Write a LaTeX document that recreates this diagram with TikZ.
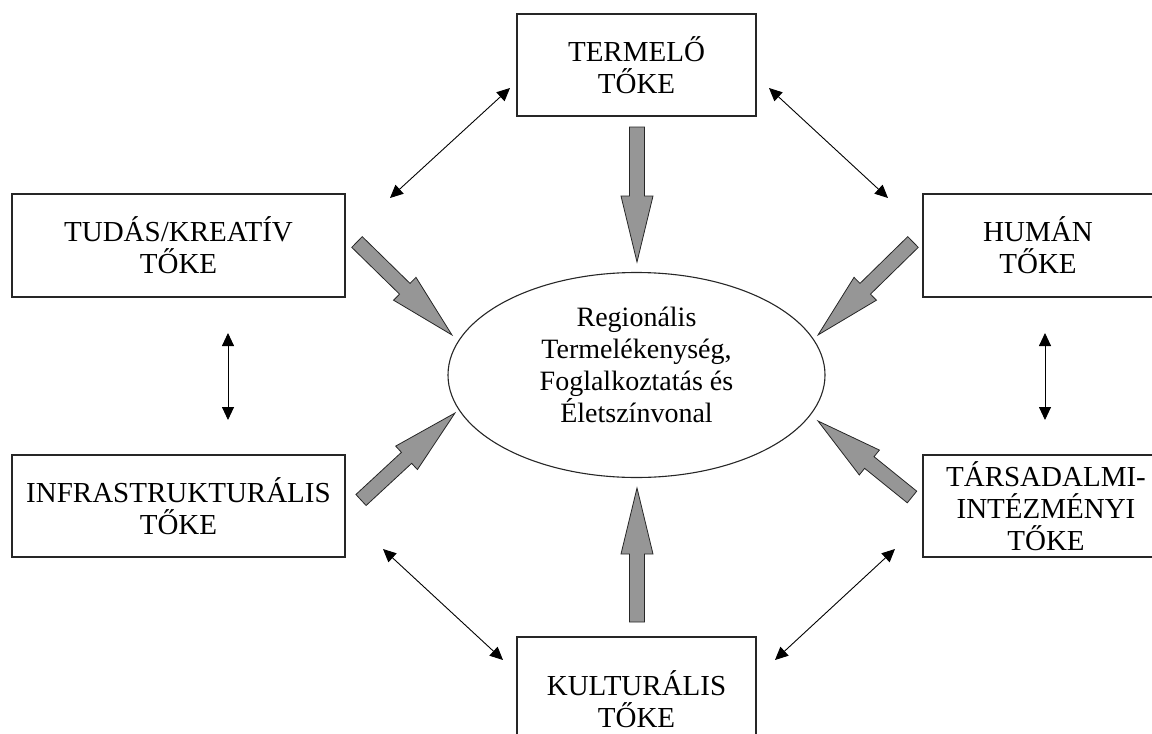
\documentclass[tikz,border=0pt]{standalone}
\usepackage{fontspec}
\setmainfont{Liberation Serif}
\usetikzlibrary{arrows.meta,shapes.geometric}
\definecolor{arrowgray}{RGB}{150,150,150}
\newdimen\gax \newdimen\gay \newdimen\gbx \newdimen\gby
\tikzset{
  capbox/.style={draw=black!85, line width=1.1pt, align=center,
    font=\fontsize{29}{32}\selectfont, inner sep=0pt},
  centretext/.style={align=center, font=\fontsize{28}{32}\selectfont, inner sep=0pt},
  twoway/.style={line width=0.9pt,
    {Triangle[length=13pt,width=12pt]}-{Triangle[length=13pt,width=12pt]}},
  blockarrow/.style={draw=black!85, line width=0.8pt, fill=arrowgray, line join=miter},
}
\newcommand{\garrow}[2]{%
  \pgfextractx{\gax}{\pgfpointanchor{#1}{center}}%
  \pgfextracty{\gay}{\pgfpointanchor{#1}{center}}%
  \pgfextractx{\gbx}{\pgfpointanchor{#2}{center}}%
  \pgfextracty{\gby}{\pgfpointanchor{#2}{center}}%
  \pgfmathsetmacro{\gang}{atan2(\the\gby-\the\gay,\the\gbx-\the\gax)}%
  \pgfmathsetmacro{\glen}{veclen(\the\gbx-\the\gax,\the\gby-\the\gay)}%
  \pgfmathsetmacro{\gbase}{\glen-66}%
  \begin{scope}[shift={(#1)},rotate=\gang]
    \draw[blockarrow] (0pt,-7.5pt) -- (\gbase pt,-7.5pt) -- (\gbase pt,-16pt)
      -- (\glen pt,0pt) -- (\gbase pt,16pt) -- (\gbase pt,7.5pt) -- (0pt,7.5pt) -- cycle;
  \end{scope}}
\begin{document}
\begin{tikzpicture}[x=1pt,y=-1pt]
\path[use as bounding box] (0,0) rectangle (1152,734);
\clip (0,0) rectangle (1152,734);

% boxes
\node[capbox, minimum width=239pt, minimum height=102pt] (termelo) at (636.5,65) {TERMELŐ\\TŐKE};
\node[capbox, minimum width=333pt, minimum height=103pt] (tudas) at (178.5,245.5) {TUDÁS/KREATÍV\\TŐKE};
\node[capbox, minimum width=230pt, minimum height=103pt] (human) at (1038,245.5) {HUMÁN\\TŐKE};
\node[capbox, minimum width=333pt, minimum height=102pt] (infra) at (178.5,506) {INFRASTRUKTURÁLIS\\TŐKE};
\node[capbox, minimum width=246pt, minimum height=102pt] (tarsadalmi) at (1046,506) {TÁRSADALMI-\\INTÉZMÉNYI\\TŐKE};
\node[capbox, minimum width=239pt, minimum height=124pt] (kulturalis) at (636.5,699) {KULTURÁLIS\\TŐKE};

% central ellipse
\node[ellipse, draw=black!85, line width=1.1pt, minimum width=377pt, minimum height=205pt,
  inner sep=0pt] (regio) at (636.5,375) {};
\node[centretext] (regiotext) at (636.5,365) {Regionális\\Termelékenység,\\Foglalkoztatás és\\Életszínvonal};

% thick grey arrows
\coordinate (g1s) at (637,127);  \coordinate (g1e) at (637,262);
\coordinate (g2s) at (357,242);  \coordinate (g2e) at (452,335);
\coordinate (g3s) at (913,242);  \coordinate (g3e) at (818,335);
\coordinate (g4s) at (361,500);  \coordinate (g4e) at (455,413);
\coordinate (g5s) at (912,497);  \coordinate (g5e) at (818,421);
\coordinate (g6s) at (637,622);  \coordinate (g6e) at (637,488);
\garrow{g1s}{g1e}
\garrow{g2s}{g2e}
\garrow{g3s}{g3e}
\garrow{g4s}{g4e}
\garrow{g5s}{g5e}
\garrow{g6s}{g6e}

% thin two-way arrows
\coordinate (t1a) at (510,88);  \coordinate (t1b) at (390,198);
\coordinate (t2a) at (769,88);  \coordinate (t2b) at (888,198);
\coordinate (t3a) at (228,333); \coordinate (t3b) at (228,420);
\coordinate (t4a) at (1045,333); \coordinate (t4b) at (1045,420);
\coordinate (t5a) at (383,549); \coordinate (t5b) at (503,660);
\coordinate (t6a) at (895,549); \coordinate (t6b) at (775,660);
\draw[twoway] (t1a) -- (t1b);
\draw[twoway] (t2a) -- (t2b);
\draw[twoway] (t3a) -- (t3b);
\draw[twoway] (t4a) -- (t4b);
\draw[twoway] (t5a) -- (t5b);
\draw[twoway] (t6a) -- (t6b);
\end{tikzpicture}
\end{document}
